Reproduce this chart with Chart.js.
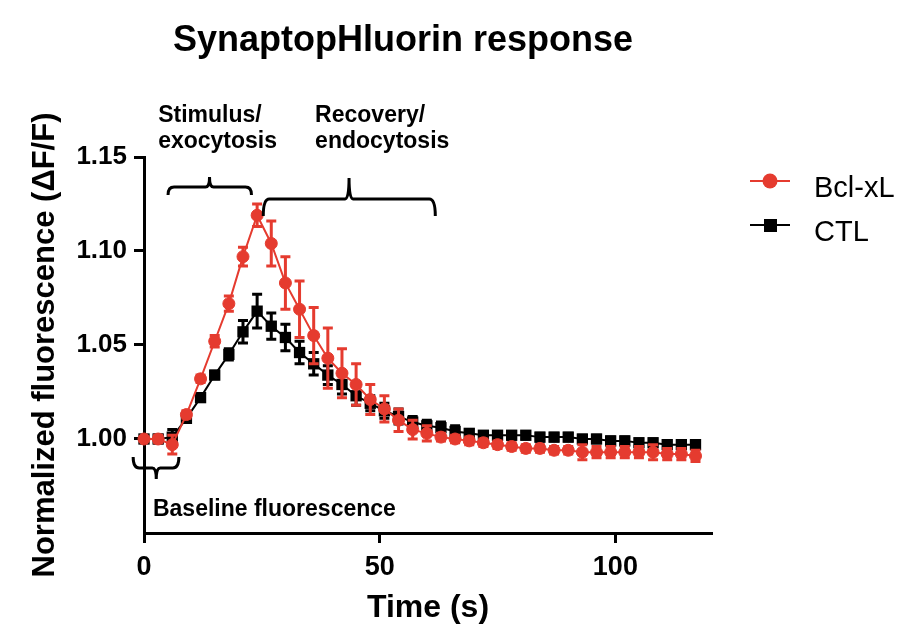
<!DOCTYPE html>
<html>
<head>
<meta charset="utf-8">
<script src="https://cdn.jsdelivr.net/npm/chart.js@4.4.1/dist/chart.umd.min.js"></script>
<style>
  html, body { margin: 0; padding: 0; background: #fff; }
  #wrap { width: 911px; height: 639px; }
</style>
</head>
<body>
<div id="wrap"><canvas id="fluorChart"></canvas></div>
<script>
// time points (s), one frame every 3 s
const time_s = [0, 3, 6, 9, 12, 15, 18, 21, 24, 27, 30, 33, 36, 39, 42, 45, 48, 51, 54, 57,
                60, 63, 66, 69, 72, 75, 78, 81, 84, 87, 90, 93, 96, 99, 102, 105, 108, 111, 114, 117];

// Bcl-xL mean and SEM
const bclxl_mean = [1.000, 1.000, 0.997, 1.013, 1.032, 1.052, 1.072, 1.097, 1.119, 1.104,
                    1.083, 1.069, 1.055, 1.043, 1.035, 1.029, 1.021, 1.016, 1.010, 1.005,
                    1.003, 1.001, 1.000, 0.999, 0.998, 0.997, 0.996, 0.995, 0.995, 0.994,
                    0.994, 0.993, 0.993, 0.993, 0.993, 0.993, 0.993, 0.992, 0.992, 0.991];
const bclxl_sem = [0.000, 0.002, 0.005, 0.002, 0.002, 0.003, 0.004, 0.005, 0.006, 0.012,
                   0.014, 0.015, 0.015, 0.016, 0.013, 0.011, 0.008, 0.007, 0.006, 0.005,
                   0.004, 0.002, 0.002, 0.002, 0.002, 0.002, 0.002, 0.002, 0.002, 0.002,
                   0.002, 0.004, 0.003, 0.003, 0.003, 0.003, 0.004, 0.003, 0.003, 0.003];

// CTL mean and SEM
const ctl_mean = [1.000, 1.000, 1.001, 1.011, 1.022, 1.034, 1.045, 1.057, 1.068, 1.060,
                  1.054, 1.046, 1.040, 1.034, 1.029, 1.023, 1.019, 1.015, 1.012, 1.009,
                  1.007, 1.006, 1.004, 1.003, 1.002, 1.002, 1.002, 1.002, 1.001, 1.001,
                  1.001, 1.000, 1.000, 0.999, 0.999, 0.998, 0.998, 0.997, 0.997, 0.997];
const ctl_sem = [0.000, 0.002, 0.004, 0.002, 0.002, 0.002, 0.003, 0.006, 0.009, 0.007,
                 0.007, 0.006, 0.006, 0.005, 0.005, 0.005, 0.004, 0.004, 0.004, 0.003,
                 0.003, 0.003, 0.003, 0.002, 0.002, 0.002, 0.002, 0.002, 0.002, 0.002,
                 0.002, 0.002, 0.002, 0.002, 0.002, 0.002, 0.002, 0.002, 0.002, 0.002];

const x_ticks = [0, 50, 100];
const y_ticks = [1.00, 1.05, 1.10, 1.15];

const FONT = '"Liberation Sans", Arial, sans-serif';
const RED = '#e53b2f';

// braces in data units: [x start, x end, x tip, y of bar, y of ends, y of tip]
const braces = [
    [5.1, 22.8, 13.9, 1.1340, 1.1298, 1.1394],
    [25.3, 61.8, 43.5, 1.1277, 1.1186, 1.1388],
    [-2.3, 7.4, 2.6, 0.9846, 0.9904, 0.9787]
];
// notes: [text, x, y (baseline), data units]
const notes = [
    ['Stimulus/', 3.0, 1.1686],
    ['exocytosis', 3.0, 1.1548],
    ['Recovery/', 36.3, 1.1686],
    ['endocytosis', 36.3, 1.1548],
    ['Baseline fluorescence', 1.9, 0.9590]
];

function toPoints(ys) {
    return time_s.map((t, i) => ({ x: t, y: ys[i] }));
}

function drawBrace(ctx, xs, ys, b) {
    const x1 = xs.getPixelForValue(b[0]), x2 = xs.getPixelForValue(b[1]), xc = xs.getPixelForValue(b[2]);
    const yl = ys.getPixelForValue(b[3]), ye = ys.getPixelForValue(b[4]), yt = ys.getPixelForValue(b[5]);
    const r = 6, r2 = 4;
    ctx.beginPath();
    ctx.moveTo(x1, ye);
    ctx.quadraticCurveTo(x1, yl, x1 + r, yl);
    ctx.lineTo(xc - r2, yl);
    ctx.quadraticCurveTo(xc, yl, xc, yt);
    ctx.moveTo(xc, yt);
    ctx.quadraticCurveTo(xc, yl, xc + r2, yl);
    ctx.lineTo(x2 - r, yl);
    ctx.quadraticCurveTo(x2, yl, x2, ye);
    ctx.stroke();
}

const extrasPlugin = {
    id: 'extras',
    beforeDatasetDraw(chart, args) {
        // error bars go under the line and markers of their own series
        const ds = chart.data.datasets[args.index];
        const xs = chart.scales.x, ys = chart.scales.y;
        const ctx = chart.ctx;
        ctx.save();
        ctx.strokeStyle = ds.borderColor;
        ctx.lineWidth = 3;
        ds.data.forEach((p, i) => {
            const e = ds.errors[i];
            if (!e) return;
            const px = xs.getPixelForValue(p.x);
            const top = ys.getPixelForValue(p.y + e);
            const bot = ys.getPixelForValue(p.y - e);
            ctx.beginPath();
            ctx.moveTo(px, top); ctx.lineTo(px, bot);
            ctx.moveTo(px - 5, top); ctx.lineTo(px + 5, top);
            ctx.moveTo(px - 5, bot); ctx.lineTo(px + 5, bot);
            ctx.stroke();
        });
        ctx.restore();
    },
    afterDraw(chart) {
        const ctx = chart.ctx;
        const xs = chart.scales.x, ys = chart.scales.y;
        const area = chart.chartArea;
        ctx.save();

        // title
        ctx.fillStyle = '#000';
        ctx.font = 'bold 36px ' + FONT;
        ctx.textAlign = 'center';
        ctx.textBaseline = 'alphabetic';
        ctx.fillText('SynaptopHluorin response', 403, 51);

        // braces and their notes
        ctx.strokeStyle = '#000';
        ctx.lineWidth = 3;
        braces.forEach(b => drawBrace(ctx, xs, ys, b));
        ctx.font = 'bold 23px ' + FONT;
        ctx.textAlign = 'left';
        notes.forEach(n => ctx.fillText(n[0], xs.getPixelForValue(n[1]), ys.getPixelForValue(n[2])));

        // legend
        const lx = area.right + 38;
        ctx.font = '29px ' + FONT;
        chart.data.datasets.forEach((ds, i) => {
            const ly = 181 + i * 44;
            ctx.strokeStyle = ds.borderColor;
            ctx.lineWidth = 2;
            ctx.beginPath();
            ctx.moveTo(lx, ly); ctx.lineTo(lx + 40, ly);
            ctx.stroke();
            ctx.fillStyle = ds.borderColor;
            if (ds.pointStyle === 'circle') {
                ctx.beginPath();
                ctx.arc(lx + 20, ly, 7.5, 0, Math.PI * 2);
                ctx.fill();
            } else {
                ctx.fillRect(lx + 14, ly - 6, 13, 13);
            }
            ctx.fillStyle = '#000';
            ctx.fillText(ds.label, lx + 64, ly + 16);
        });
        ctx.restore();
    }
};

const ctx = document.getElementById('fluorChart').getContext('2d');
const fluorChart = new Chart(ctx, {
    type: 'line',
    data: {
        datasets: [{
            label: 'Bcl-xL',
            data: toPoints(bclxl_mean),
            errors: bclxl_sem,
            borderColor: RED,
            backgroundColor: RED,
            borderWidth: 2,
            pointStyle: 'circle',
            pointRadius: 6,
            pointBorderWidth: 1,
            tension: 0,
            clip: false
        }, {
            label: 'CTL',
            data: toPoints(ctl_mean),
            errors: ctl_sem,
            borderColor: '#000',
            backgroundColor: '#000',
            borderWidth: 2,
            pointStyle: 'rect',
            pointRadius: 8,
            pointBorderWidth: 0,
            tension: 0,
            clip: false
        }]
    },
    options: {
        responsive: true,
        maintainAspectRatio: false,
        animation: false,
        layout: { padding: { top: 157, right: 199, left: 0, bottom: 0 } },
        plugins: {
            legend: { display: false },
            title: { display: false },
            tooltip: { enabled: false }
        },
        scales: {
            x: {
                type: 'linear',
                min: 0,
                max: 120.5,
                afterBuildTicks: s => { s.ticks = x_ticks.map(v => ({ value: v })); },
                afterFit: s => { s.height = 106; },
                grid: { display: true, drawOnChartArea: false, tickLength: 10, tickWidth: 3, tickColor: '#000' },
                border: { display: true, width: 3, color: '#000' },
                ticks: { color: '#000', padding: 8, font: { family: FONT, size: 27, weight: 'bold' } },
                title: {
                    display: true,
                    text: 'Time (s)',
                    color: '#000',
                    font: { family: FONT, size: 32, weight: 'bold' },
                    padding: { top: 0, bottom: 12 }
                }
            },
            y: {
                min: 0.95,
                max: 1.15,
                afterBuildTicks: s => { s.ticks = y_ticks.map(v => ({ value: v })); },
                afterFit: s => { s.width = 144; },
                grid: { display: true, drawOnChartArea: false, tickLength: 10, tickWidth: 3, tickColor: '#000' },
                border: { display: true, width: 3, color: '#000' },
                ticks: {
                    color: '#000',
                    padding: 7,
                    font: { family: FONT, size: 26, weight: 'bold' },
                    callback: v => v.toFixed(2)
                },
                title: {
                    display: true,
                    text: 'Normalized fluorescence (\u0394F/F)',
                    color: '#000',
                    font: { family: FONT, size: 31, weight: 'bold' },
                    padding: { top: 27, bottom: 0 }
                }
            }
        }
    },
    plugins: [extrasPlugin]
});
</script>
</body>
</html>
